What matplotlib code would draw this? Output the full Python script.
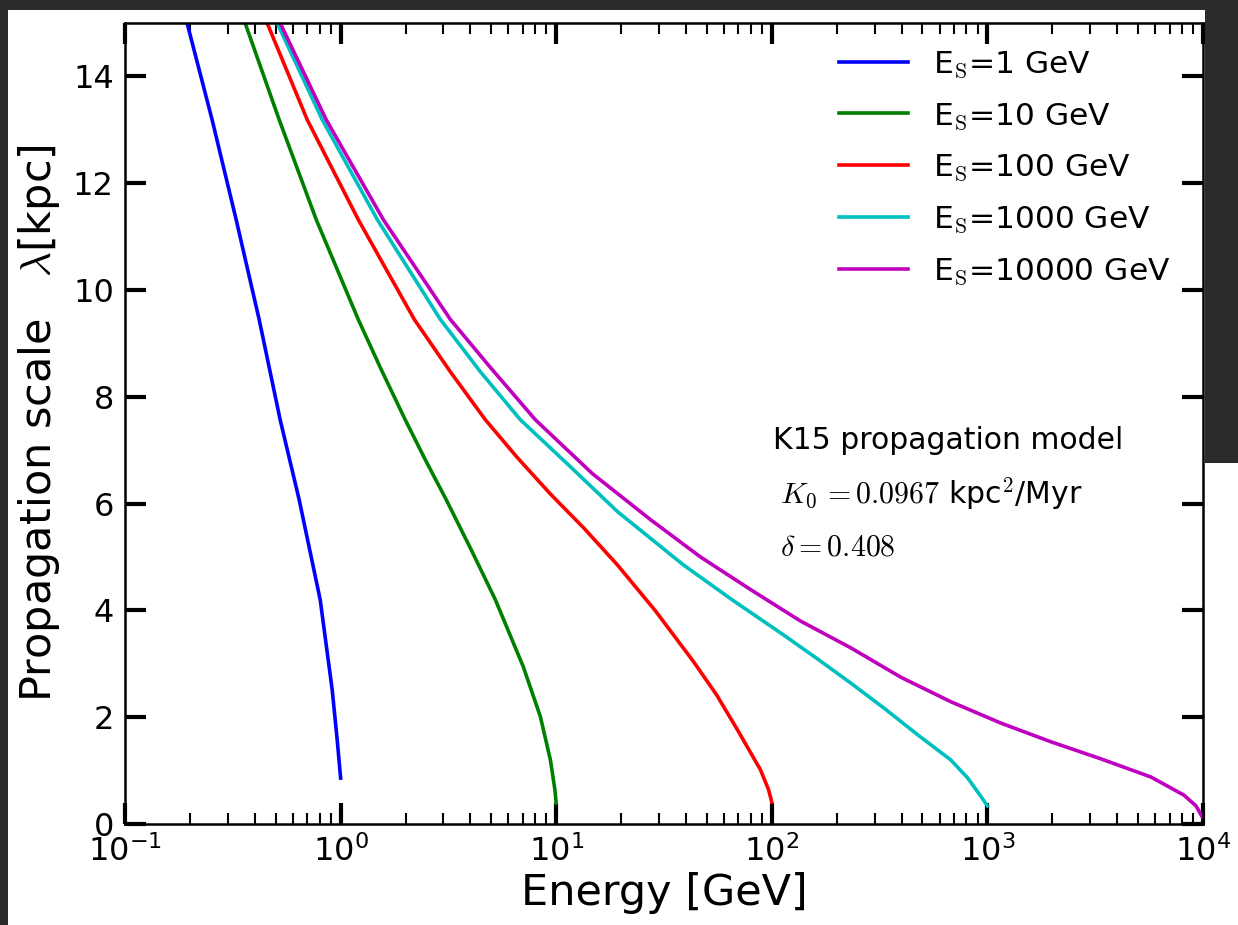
import matplotlib
matplotlib.use("Agg")
import matplotlib.pyplot as plt
from matplotlib.patches import Rectangle
from matplotlib.ticker import LogLocator, NullFormatter

plt.rcParams['mathtext.fontset'] = 'cm'

# values: energy [GeV] and propagation scale [kpc]
e_1 = [0.194, 0.2534, 0.3276, 0.4188, 0.5243, 0.6425, 0.804, 0.9141, 0.9643, 1.0]
lam_1 = [15.0, 13.19, 11.32, 9.45, 7.57, 6.07, 4.20, 2.51, 1.57, 0.86]

e_10 = [0.3606, 0.5187, 0.7704, 1.207, 1.543, 1.994, 2.471, 3.092, 4.040, 5.221,
        7.043, 8.444, 9.399, 9.862, 10.0]
lam_10 = [15.0, 13.19, 11.32, 9.45, 8.51, 7.57, 6.82, 6.07, 5.13, 4.20,
          2.94, 2.01, 1.20, 0.64, 0.39]

e_100 = [0.4562, 0.6997, 1.207, 2.196, 3.227, 4.692, 6.607, 9.399, 13.52, 19.24,
         28.88, 43.35, 55.42, 69.38, 88.72, 96.63, 100.0]
lam_100 = [15.0, 13.19, 11.32, 9.45, 8.47, 7.57, 6.86, 6.18, 5.53, 4.85,
           3.99, 3.04, 2.42, 1.76, 1.01, 0.64, 0.41]

e_1000 = [0.5076, 0.8215, 1.479, 2.900, 4.447, 6.822, 11.64, 19.24, 38.96,
          66.48, 113.4, 163.2, 232.2, 333.9, 475.2, 676.3, 810.9, 932.0, 1000.0]
lam_1000 = [15.0, 13.19, 11.32, 9.45, 8.47, 7.57, 6.69, 5.85, 4.85,
            4.18, 3.54, 3.09, 2.64, 2.16, 1.67, 1.20, 0.86, 0.52, 0.34]

e_10000 = [0.5243, 0.8571, 1.577, 3.227, 4.95, 8.005, 14.73, 27.37, 46.71,
           79.72, 136.0, 232.2, 396.3, 676.3, 1154, 1969, 3361, 5735, 8164,
           9279, 10000.0]
lam_10000 = [15.0, 13.19, 11.32, 9.45, 8.55, 7.57, 6.56, 5.70, 5.00,
             4.39, 3.80, 3.30, 2.75, 2.29, 1.89, 1.54, 1.22, 0.88, 0.54,
             0.34, 0.11]

series = [
    (e_1, lam_1, 'b', r'E$_\mathrm{S}$=1 GeV'),
    (e_10, lam_10, 'g', r'E$_\mathrm{S}$=10 GeV'),
    (e_100, lam_100, 'r', r'E$_\mathrm{S}$=100 GeV'),
    (e_1000, lam_1000, 'c', r'E$_\mathrm{S}$=1000 GeV'),
    (e_10000, lam_10000, 'm', r'E$_\mathrm{S}$=10000 GeV'),
]

fig = plt.figure(figsize=(12.38, 9.25), dpi=100, facecolor='#2b2b2b')
# white slide area inside the dark border (drawn behind the axes)
fig.patches.append(Rectangle((8 / 1238, 0), 1197 / 1238, 915 / 925,
                             transform=fig.transFigure, facecolor='white',
                             edgecolor='none', zorder=-10))
fig.patches.append(Rectangle((8 / 1238, 0), 1230 / 1238, 0.5,
                             transform=fig.transFigure, facecolor='white',
                             edgecolor='none', zorder=-10))

ax = fig.add_axes([0.101, 0.1092, 0.8707, 0.8659])

for e, lam, c, lab in series:
    ax.plot(e, lam, color=c, lw=2.6, label=lab, solid_joinstyle='round')

ax.set_xscale('log')
ax.set_xlim(0.1, 1e4)
ax.set_ylim(0, 15)
ax.set_yticks(range(0, 15, 2))
ax.xaxis.set_minor_locator(LogLocator(base=10, subs=range(2, 10)))
ax.xaxis.set_minor_formatter(NullFormatter())

for s in ax.spines.values():
    s.set_linewidth(1.8)
ax.tick_params(which='both', direction='in', top=True, right=True)
ax.tick_params(which='major', length=15, width=3, labelsize=23, pad=8)
ax.tick_params(which='minor', length=8, width=1.5)

ax.set_xlabel('Energy [GeV]', fontsize=31, labelpad=3)
ax.set_ylabel(r'Propagation scale   $\lambda$[kpc]', fontsize=31, labelpad=8)

ax.legend(loc='upper right', bbox_to_anchor=(0.981, 0.983), frameon=False,
          fontsize=22.5, handlelength=2.2, labelspacing=0.68,
          handletextpad=0.8, borderaxespad=0)

ax.text(0.601, 0.479, 'K15 propagation model', transform=ax.transAxes,
        fontsize=21.5, va='center')
ax.text(0.608, 0.413, r'$K_0\,=0.0967$ kpc$^2$/Myr', transform=ax.transAxes,
        fontsize=21.5, va='center')
ax.text(0.608, 0.346, r'$\delta=0.408$', transform=ax.transAxes,
        fontsize=21.5, va='center')

fig.savefig('out.png', dpi=100, facecolor=fig.get_facecolor())
